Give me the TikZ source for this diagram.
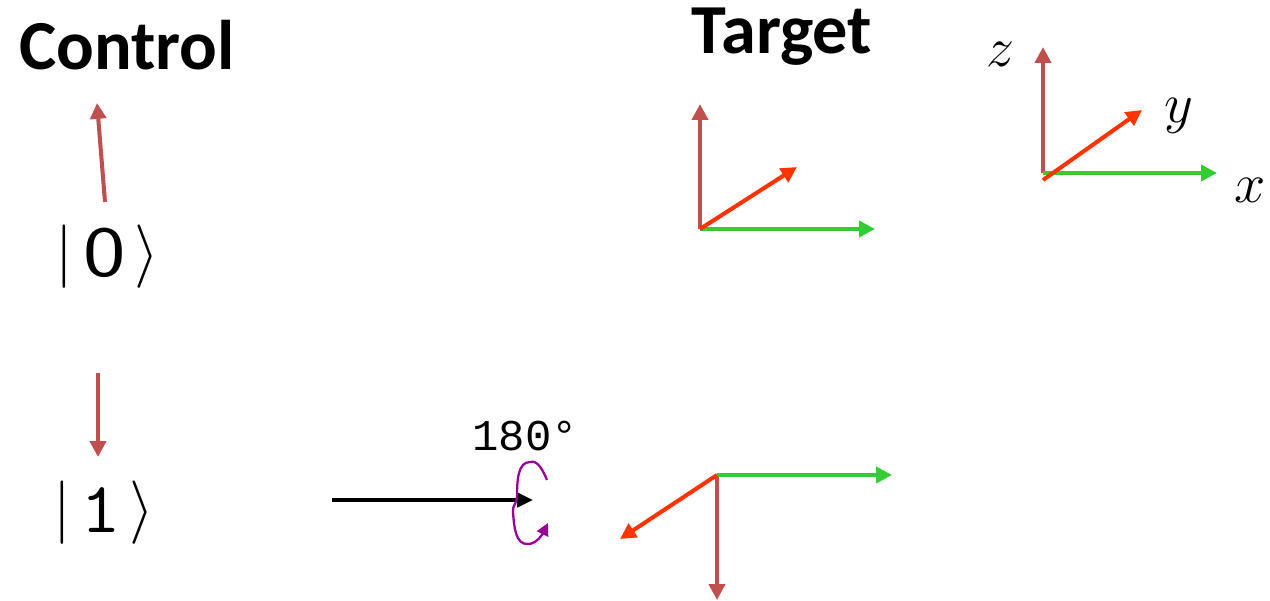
\documentclass[tikz,border=0pt]{standalone}
\usepackage{fontspec}
\newfontfamily\calib{Carlito}
\newfontfamily\cour{Liberation Mono}
\usetikzlibrary{arrows.meta}
\definecolor{zcol}{HTML}{C0504D}
\definecolor{ycol}{HTML}{FF3300}
\definecolor{xcol}{HTML}{33CC33}
\definecolor{rotcol}{HTML}{990099}
\newcommand{\fsz}[1]{\fontsize{#1}{#1}\selectfont}
\newcommand{\bigmath}[2]{\scalebox{#1}{\fsz{20.74}$#2$}}
\tikzset{
  ax/.style={line width=2.3pt,-{Triangle[length=9pt,width=9pt]}},
  zax/.style={ax,zcol},
  yax/.style={ax,ycol},
  xax/.style={ax,xcol},
  title/.style={font=\calib\bfseries\fsz{40}},
}
\begin{document}
\begin{tikzpicture}[x=0.02cm,y=-0.02cm]
\useasboundingbox (0,0) rectangle (1270,600);
% titles
\node[title] (ctrl) at (127,45) {Control};
\node[title] (tgt) at (782,37) {Target};
% kets
\node (k0) at (107,257) {\raisebox{2pt}{\bigmath{1.74}{|}}\hspace{6pt}\scalebox{1.25}[1]{\fsz{41}$\mathsf{0}$}\hspace{5pt}\raisebox{2pt}{\bigmath{1.74}{\rangle}}};
\node (k1) at (104,513) {\raisebox{2pt}{\bigmath{1.74}{|}}\hspace{5pt}\scalebox{1.1}[1]{\fsz{41}$\mathtt{1}$}\hspace{5pt}\raisebox{2pt}{\bigmath{1.74}{\rangle}}};
% control arrows
\coordinate (c0s) at (105,202);
\coordinate (c0e) at (97,103);
\draw[zax] (c0s) -- (c0e);
\coordinate (c1s) at (98,373);
\coordinate (c1e) at (98,457);
\draw[zax] (c1s) -- (c1e);
% target axes 1
\coordinate (o1) at (700,229);
\coordinate (z1) at (700,104);
\coordinate (x1) at (875,229);
\coordinate (y1) at (797,167);
\draw[zax] (o1) -- (z1);
\draw[xax] (o1) -- (x1);
\draw[yax] (o1) -- (y1);
% reference axes
\coordinate (o2) at (1043,173);
\coordinate (o2y) at (1043,180);
\coordinate (z2) at (1043,47);
\coordinate (x2) at (1217,173);
\coordinate (y2) at (1142,110);
\draw[zax] (o2) -- (z2);
\draw[xax] (o2) -- (x2);
\draw[yax] (o2y) -- (y2);
\node (lz) at (1000,54) {\bigmath{1.54}{z}};
\node (ly) at (1179,116) {\bigmath{1.54}{y}};
\node (lx) at (1250,190) {\bigmath{1.54}{x}};
% rotation
\coordinate (rs) at (332,500);
\coordinate (re) at (533,500);
\draw[line width=2.3pt,-{Triangle[length=9pt,width=8pt]}] (rs) -- (re);
\node[font=\cour\fsz{25}] (ang) at (525,436) {180°};
\coordinate (cs) at (547,480);
\coordinate (ce) at (548,523);
\draw[rotcol,line width=1.3pt,-{Triangle[length=7pt,width=7pt]}]
  (cs) .. controls (542,468) and (537,460) .. (530,462)
  .. controls (518,462) and (517,480) .. (517,497)
  .. controls (517,503) and (512,506) .. (513,512)
  .. controls (514,525) and (515,545) .. (528,544)
  .. controls (537,544) and (543,533) .. (ce);
% target axes 3 (after rotation)
\coordinate (o3) at (717,475);
\coordinate (x3) at (892,475);
\coordinate (z3) at (717,600);
\coordinate (y3) at (620,539);
\draw[zax] (o3) -- (z3);
\draw[xax] (o3) -- (x3);
\draw[yax] (o3) -- (y3);
\end{tikzpicture}
\end{document}
